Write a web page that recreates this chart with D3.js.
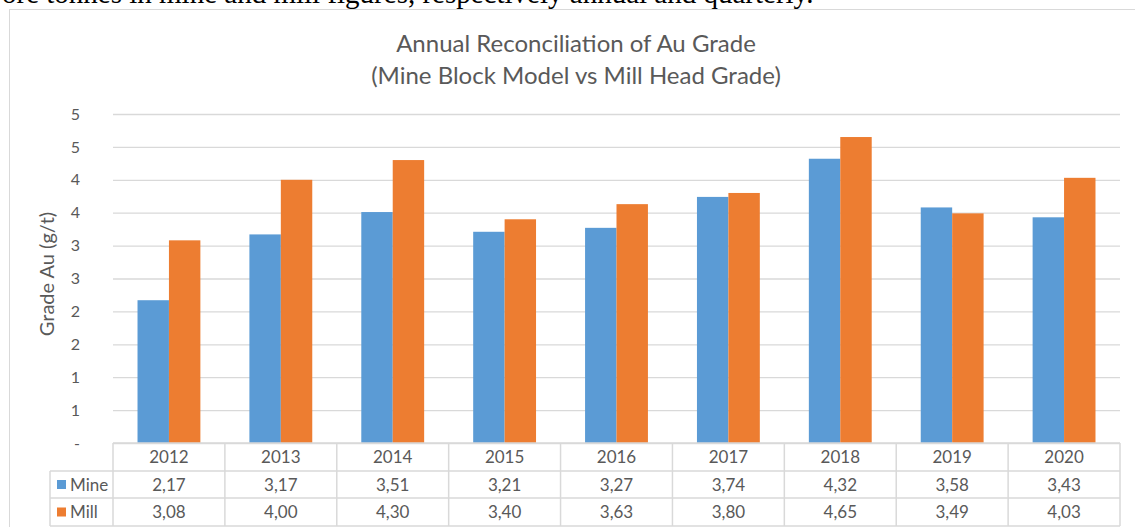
<!DOCTYPE html>
<html>
<head>
<meta charset="utf-8">
<script src="https://cdn.jsdelivr.net/npm/d3@7"></script>
<style>
  body { margin: 0; background: #fff; }
  svg text { font-family: Lato, "Open Sans", sans-serif; fill: #595959; }
</style>
</head>
<body>
<div id="chart"></div>
<script>
// Data
const years = ["2012", "2013", "2014", "2015", "2016", "2017", "2018", "2019", "2020"];
const mine = [2.17, 3.17, 3.51, 3.21, 3.27, 3.74, 4.32, 3.58, 3.43];
const mill = [3.08, 4.00, 4.30, 3.40, 3.63, 3.80, 4.65, 3.49, 4.03];
const seriesNames = ["Mine", "Mill"];
const colors = ["#5B9BD5", "#ED7D31"];
const yTicks = [0, 0.5, 1, 1.5, 2, 2.5, 3, 3.5, 4, 4.5, 5];

const W = 1135, H = 527;
const svg = d3.select("#chart").append("svg")
    .attr("width", W)
    .attr("height", H);

// Clipped page text above the chart
svg.append("text")
    .attr("x", 2)
    .attr("y", 3)
    .style("font-family", "'Liberation Serif', serif")
    .style("font-size", "29px")
    .style("fill", "#000")
    .text("ore tonnes in mine and mill figures, respectively annual and quarterly.");

// Chart frame
svg.append("rect")
    .attr("x", 9.5)
    .attr("y", 9.5)
    .attr("width", W + 10)
    .attr("height", H)
    .attr("fill", "#fff")
    .attr("stroke", "#D9D9D9");

// Title
svg.append("text")
    .attr("x", 576).attr("y", 52)
    .attr("text-anchor", "middle")
    .style("font-size", "24px")
    .text("Annual Reconciliation of Au Grade");
svg.append("text")
    .attr("x", 576).attr("y", 84)
    .attr("text-anchor", "middle")
    .style("font-size", "24px")
    .text("(Mine Block Model vs Mill Head Grade)");

// Scales
const plotLeft = 113, plotRight = 1120, plotTop = 114, zero = 443;
const x = d3.scaleBand().domain(years).range([plotLeft, plotRight]);
const y = d3.scaleLinear().domain([0, 5]).range([zero, plotTop]);
const inner = d3.scaleBand().domain(seriesNames).range([0, x.bandwidth()])
    .paddingInner(0).paddingOuter(0.78);

// Gridlines + tick labels
const yAxis = d3.axisLeft(y)
    .tickValues(yTicks)
    .tickSize(-(plotRight - plotLeft))
    .tickPadding(33)
    .tickFormat(d => d === 0 ? "-" : Math.round(d));
const gy = svg.append("g")
    .attr("transform", `translate(${plotLeft},0)`)
    .call(yAxis);
gy.select(".domain").remove();
gy.selectAll(".tick line").attr("stroke", "#D9D9D9").attr("stroke-width", 1.3);
gy.selectAll(".tick text").style("font-size", "16px").attr("fill", "#595959");

// Y axis title
svg.append("text")
    .attr("transform", "translate(54,274) rotate(-90)")
    .attr("text-anchor", "middle")
    .style("font-size", "20px")
    .text("Grade Au (g/t)");

// Bars
const data = years.map((yr, i) => ({ year: yr, values: [mine[i], mill[i]] }));
const groups = svg.append("g").selectAll("g")
    .data(data)
    .join("g")
    .attr("transform", d => `translate(${x(d.year)},0)`);
groups.selectAll("rect")
    .data(d => d.values.map((v, j) => ({ key: seriesNames[j], v, j })))
    .join("rect")
    .attr("x", d => inner(d.key))
    .attr("y", d => y(d.v))
    .attr("width", inner.bandwidth())
    .attr("height", d => y(0) - y(d.v))
    .attr("fill", d => colors[d.j]);

// Data table
const rowH = [443, 471, 498, 526];
const legendLeft = 50;
const table = svg.append("g").attr("class", "table");
const lineColor = "#D9D9D9";

// horizontal lines
table.append("line").attr("x1", plotLeft).attr("x2", plotRight).attr("y1", rowH[0]).attr("y2", rowH[0]);
[1, 2, 3].forEach(r => {
    table.append("line").attr("x1", legendLeft).attr("x2", plotRight).attr("y1", rowH[r]).attr("y2", rowH[r]);
});
// vertical lines
years.forEach(yr => {
    table.append("line").attr("x1", x(yr)).attr("x2", x(yr)).attr("y1", rowH[0]).attr("y2", rowH[3]);
});
table.append("line").attr("x1", plotRight).attr("x2", plotRight).attr("y1", rowH[0]).attr("y2", rowH[3]);
table.append("line").attr("x1", legendLeft).attr("x2", legendLeft).attr("y1", rowH[1]).attr("y2", rowH[3]);
table.selectAll("line").attr("stroke", lineColor).attr("stroke-width", 1.5);

const fmt = v => v.toFixed(2).replace(".", ",");
// header row
table.selectAll("text.yr")
    .data(years)
    .join("text")
    .attr("class", "yr")
    .attr("x", d => x(d) + x.bandwidth() / 2)
    .attr("y", (rowH[0] + rowH[1]) / 2 + 6)
    .attr("text-anchor", "middle")
    .style("font-size", "17px")
    .text(d => d);

[mine, mill].forEach((vals, s) => {
    const cy = (rowH[s + 1] + rowH[s + 2]) / 2;
    table.append("rect")
        .attr("x", 57).attr("y", cy - 4.5)
        .attr("width", 9).attr("height", 9)
        .attr("fill", colors[s]);
    table.append("text")
        .attr("x", 70).attr("y", cy + 6)
        .style("font-size", "17px")
        .text(seriesNames[s]);
    table.selectAll("text.v" + s)
        .data(vals)
        .join("text")
        .attr("class", "v" + s)
        .attr("x", (d, i) => x(years[i]) + x.bandwidth() / 2)
        .attr("y", cy + 6)
        .attr("text-anchor", "middle")
        .style("font-size", "17px")
        .text(d => fmt(d));
});
</script>
</body>
</html>
